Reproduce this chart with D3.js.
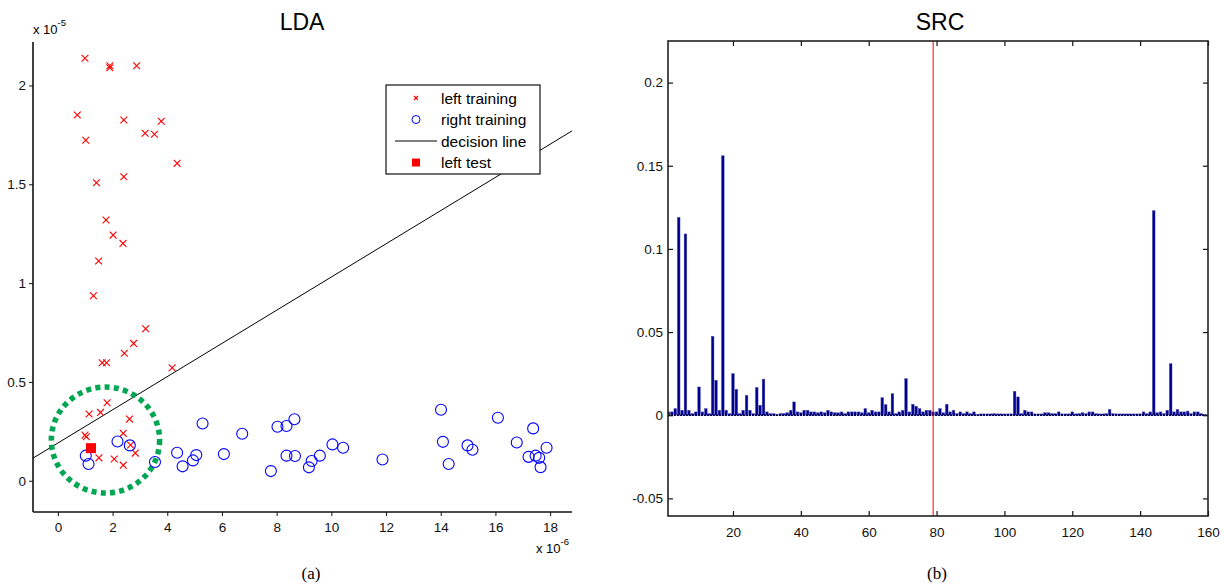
<!DOCTYPE html>
<html>
<head>
<meta charset="utf-8">
<script src="https://cdn.jsdelivr.net/npm/d3@7"></script>
<style>
  body { margin: 0; background: #fff; }
  svg { font-family: "Liberation Sans", Arial, sans-serif; }
  .tick text { font-size: 13.5px; fill: #111; }
</style>
</head>
<body>
<svg id="fig" width="1224" height="588"></svg>
<script>
// ---- data: LDA projection (x in 1e-6, y in 1e-5) ----
var leftX = [0.99, 1.90, 1.90, 2.88, 0.71, 2.41, 3.78, 1.02, 3.19, 3.53, 4.36, 1.41, 2.41, 1.76, 2.02, 2.38, 1.49,
             1.30, 3.21, 2.77, 2.43, 1.62, 1.78, 4.18, 1.80, 1.14, 1.56, 2.62, 0.99, 1.04, 2.39, 2.66, 2.83, 1.50, 2.06, 2.39];
var leftY = [2.138, 2.10, 2.09, 2.10, 1.851, 1.825, 1.819, 1.723, 1.758, 1.753, 1.606, 1.508, 1.538, 1.319, 1.243, 1.201, 1.112,
             0.936, 0.769, 0.695, 0.645, 0.597, 0.597, 0.572, 0.395, 0.338, 0.346, 0.312, 0.231, 0.223, 0.240, 0.181, 0.140, 0.116, 0.110, 0.079];
var rightX = [1.02, 1.12, 2.18, 2.63, 3.55, 4.36, 4.56, 4.94, 5.06, 5.29, 6.07, 6.74, 7.79, 8.03, 8.36, 8.65, 8.36, 8.67, 9.18, 9.28, 9.58,
              10.04, 10.43, 11.87, 14.01, 14.08, 14.29, 14.98, 15.16, 16.09, 16.78, 17.38, 17.21, 17.47, 17.60, 17.65, 17.87];
var rightY = [0.127, 0.085, 0.199, 0.179, 0.095, 0.142, 0.073, 0.103, 0.130, 0.290, 0.135, 0.238, 0.049, 0.273, 0.277, 0.311, 0.127, 0.125, 0.068, 0.100, 0.127,
              0.184, 0.167, 0.108, 0.359, 0.197, 0.085, 0.179, 0.157, 0.319, 0.194, 0.265, 0.121, 0.127, 0.116, 0.069, 0.167];
var testPoint = [1.21, 0.165];
var decisionLine = [0.191, 0.084];   // intercept, slope
var ring = [1.74, 0.206, 1.98, 0.268]; // cx, cy, rx, ry
var ldaXTicks = [0, 2, 4, 6, 8, 10, 12, 14, 16, 18];
var ldaYTicks = [0, 0.5, 1, 1.5, 2];
var legendLabels = ["left training", "right training", "decision line", "left test"];

// ---- data: SRC coefficients ----
var srcCoef = [0.002, 0.002, 0.004, 0.119, 0.003, 0.109, 0.003, 0.001, 0.002, 0.017,
  0.002, 0.004, 0.001, 0.0475, 0.021, 0.003, 0.156, 0.003, 0.001, 0.025,
  0.0156, 0.001, 0.003, 0.012, 0.003, 0.001, 0.0167, 0.006, 0.0217, 0.002,
  0.001, 0.001, 0.0005, 0.001, 0.001, 0.0015, 0.003, 0.008, 0.002, 0.0015,
  0.003, 0.003, 0.002, 0.002, 0.0015, 0.002, 0.0015, 0.003, 0.002, 0.0015,
  0.0015, 0.002, 0.001, 0.002, 0.002, 0.002, 0.002, 0.0015, 0.004, 0.0015,
  0.003, 0.002, 0.002, 0.0106, 0.0064, 0.002, 0.013, 0.001, 0.002, 0.003,
  0.022, 0.002, 0.0066, 0.0054, 0.004, 0.002, 0.003, 0.003, 0.002, 0.002,
  0.004, 0.0015, 0.0066, 0.002, 0.003, 0.001, 0.002, 0.001, 0.002, 0.001,
  0.002, 0.0005, 0.0008, 0.0008, 0.0008, 0.0008, 0.001, 0.0008, 0.0008, 0.0008,
  0.0008, 0.0008, 0.0144, 0.011, 0.001, 0.003, 0.002, 0.002, 0.0008, 0.0008,
  0.0008, 0.0015, 0.0015, 0.001, 0.001, 0.002, 0.0008, 0.0008, 0.0008, 0.002,
  0.0008, 0.001, 0.0015, 0.001, 0.002, 0.002, 0.001, 0.0008, 0.0008, 0.001,
  0.0035, 0.001, 0.0008, 0.0008, 0.0008, 0.0008, 0.0008, 0.0008, 0.0008, 0.0008,
  0.002, 0.001, 0.002, 0.123, 0.0015, 0.002, 0.001, 0.003, 0.031, 0.002,
  0.0035, 0.002, 0.002, 0.0025, 0.001, 0.002, 0.002, 0.001, 0.0005];
var srcXTicks = [20, 40, 60, 80, 100, 120, 140, 160];
var srcYTicks = [-0.05, 0, 0.05, 0.1, 0.15, 0.2];
var splitAt = 79;

var svg = d3.select("#fig");
svg.append("rect").attr("width", 1224).attr("height", 588).attr("fill", "#fff");

// ================= LDA panel =================
var x1 = d3.scaleLinear().domain([-0.91, 18.8]).range([33, 572]);
var y1 = d3.scaleLinear().domain([-0.158, 2.22]).range([512, 42]);
var lda = svg.append("g");

lda.append("text").attr("x", 302).attr("y", 30).attr("text-anchor", "middle")
  .style("font-size", "23px").text("LDA");

lda.append("text").attr("x", 33).attr("y", 34).style("font-size", "13px")
  .text("x 10").append("tspan").attr("dy", -8).style("font-size", "9.5px").text("-5");
lda.append("text").attr("x", 536).attr("y", 553).style("font-size", "13px")
  .text("x 10").append("tspan").attr("dy", -8).style("font-size", "9.5px").text("-6");

var ax1 = lda.append("g").attr("transform", "translate(0,512)")
  .call(d3.axisBottom(x1).tickValues(ldaXTicks).tickSize(4).tickPadding(6).tickFormat(d3.format("d")));
var ay1 = lda.append("g").attr("transform", "translate(33,0)")
  .call(d3.axisLeft(y1).tickValues(ldaYTicks).tickSize(4).tickPadding(3).tickFormat(d => d));
[ax1, ay1].forEach(a => {
  a.select(".domain").attr("stroke", "#111").attr("stroke-width", 1.6);
  a.selectAll(".tick line").attr("stroke", "#111");
});
ax1.select(".domain").attr("d", "M33,0H572");
ay1.select(".domain").attr("d", "M0,42V512");

// decision line
var dl = x1.domain().map(v => [x1(v), y1(decisionLine[0] + decisionLine[1] * v)]);
lda.append("path").attr("d", d3.line()(dl)).attr("stroke", "#000").attr("stroke-width", 1).attr("fill", "none");

// green dashed ring
lda.append("ellipse")
  .attr("cx", x1(ring[0])).attr("cy", y1(ring[1]))
  .attr("rx", x1(ring[0] + ring[2]) - x1(ring[0]))
  .attr("ry", y1(ring[1]) - y1(ring[1] + ring[3]))
  .attr("fill", "none").attr("stroke", "#00a651").attr("stroke-width", 5.5)
  .attr("stroke-dasharray", "5 4.3");

// red crosses
var cross = "M-3.4,-3.4L3.4,3.4M-3.4,3.4L3.4,-3.4";
lda.append("g").selectAll("path").data(d3.range(leftX.length)).join("path")
  .attr("transform", i => `translate(${x1(leftX[i])},${y1(leftY[i])})`)
  .attr("d", cross).attr("stroke", "#f00").attr("stroke-width", 1.1).attr("fill", "none");

// blue circles
lda.append("g").selectAll("circle").data(d3.range(rightX.length)).join("circle")
  .attr("cx", i => x1(rightX[i])).attr("cy", i => y1(rightY[i])).attr("r", 5.5)
  .attr("fill", "none").attr("stroke", "#00f").attr("stroke-width", 1.1);

// test point
lda.append("rect").attr("x", x1(testPoint[0]) - 5).attr("y", y1(testPoint[1]) - 5)
  .attr("width", 10).attr("height", 10).attr("fill", "#f00");

// legend
var lg = lda.append("g").attr("transform", "translate(386,85)");
lg.append("rect").attr("width", 154).attr("height", 89).attr("fill", "#fff")
  .attr("stroke", "#111").attr("stroke-width", 1.2);
legendLabels.forEach((t, i) => {
  var cy = 13 + i * 21.5;
  var row = lg.append("g").attr("transform", `translate(0,${cy})`);
  if (i === 0) row.append("path").attr("transform", "translate(30,0)").attr("d", "M-2,-2L2,2M-2,2L2,-2")
      .attr("stroke", "#f00").attr("stroke-width", 1.1);
  if (i === 1) row.append("circle").attr("cx", 30).attr("r", 4).attr("fill", "none").attr("stroke", "#00f");
  if (i === 2) row.append("line").attr("x1", 9).attr("x2", 51).attr("stroke", "#000");
  if (i === 3) row.append("rect").attr("x", 26).attr("y", -4).attr("width", 8).attr("height", 8).attr("fill", "#f00");
  row.append("text").attr("x", 55).attr("y", 5.5).style("font-size", "15.5px").text(t);
});

lda.append("text").attr("x", 311).attr("y", 579).attr("text-anchor", "middle")
  .style("font-family", "'Liberation Serif', 'Times New Roman', serif").style("font-size", "17px").text("(a)");

// ================= SRC panel =================
var L = 668, R = 1208, T = 41, B = 516;
var x2 = d3.scaleLinear().domain([0.85, 160]).range([L, R]);
var y2 = d3.scaleLinear().domain([-0.0606, 0.225]).range([B, T]);
var src = svg.append("g");

src.append("text").attr("x", 940).attr("y", 30).attr("text-anchor", "middle")
  .style("font-size", "23px").text("SRC");

var defs = svg.append("defs");
defs.append("clipPath").attr("id", "clip2").append("rect")
  .attr("x", L).attr("y", T).attr("width", R - L).attr("height", B - T);

var plot = src.append("g").attr("clip-path", "url(#clip2)");
var bw = x2(0.8) - x2(0);
plot.selectAll("rect.bar").data(srcCoef).join("rect").attr("class", "bar")
  .attr("x", (d, i) => x2(i + 1) - bw / 2)
  .attr("width", bw)
  .attr("y", d => y2(d))
  .attr("height", d => y2(0) - y2(d))
  .attr("fill", "#00008f")
  .attr("stroke", "#5a5ab0").attr("stroke-width", 0.4);
plot.append("line").attr("x1", L).attr("x2", R).attr("y1", y2(0)).attr("y2", y2(0))
  .attr("stroke", "#000050").attr("stroke-width", 1.6).attr("stroke-dasharray", "2 1");
plot.append("line").attr("x1", x2(splitAt)).attr("x2", x2(splitAt)).attr("y1", T).attr("y2", B)
  .attr("stroke", "#f00").attr("stroke-width", 1);

// axes with inward ticks on all sides
var xb = src.append("g").attr("transform", `translate(0,${B})`)
  .call(d3.axisBottom(x2).tickValues(srcXTicks).tickSizeInner(-5).tickSizeOuter(0).tickPadding(11).tickFormat(d3.format("d")));
var xt = src.append("g").attr("transform", `translate(0,${T})`)
  .call(d3.axisTop(x2).tickValues(srcXTicks).tickSizeInner(-5).tickSizeOuter(0).tickFormat(""));
var yl = src.append("g").attr("transform", `translate(${L},0)`)
  .call(d3.axisLeft(y2).tickValues(srcYTicks).tickSizeInner(-5).tickSizeOuter(0).tickPadding(5).tickFormat(d => d));
var yr = src.append("g").attr("transform", `translate(${R},0)`)
  .call(d3.axisRight(y2).tickValues(srcYTicks).tickSizeInner(-5).tickSizeOuter(0).tickFormat(""));
[xb, xt, yl, yr].forEach(a => {
  a.select(".domain").remove();
  a.selectAll(".tick line").attr("stroke", "#111").attr("stroke-width", 1.2);
});
src.append("rect").attr("x", L).attr("y", T).attr("width", R - L).attr("height", B - T)
  .attr("fill", "none").attr("stroke", "#222").attr("stroke-width", 1.6);

src.append("text").attr("x", 937).attr("y", 579).attr("text-anchor", "middle")
  .style("font-family", "'Liberation Serif', 'Times New Roman', serif").style("font-size", "17px").text("(b)");
</script>
</body>
</html>
